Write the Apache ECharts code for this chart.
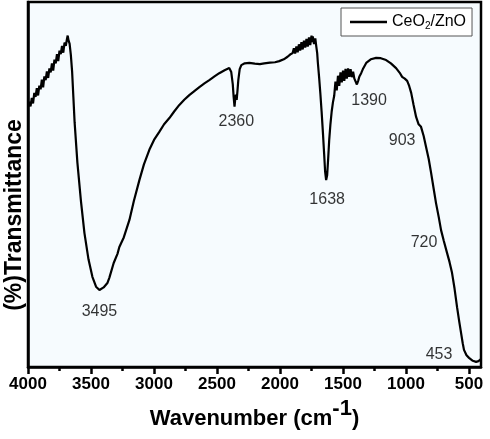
<!DOCTYPE html>
<html>
<head>
<meta charset="utf-8">
<script src="https://cdn.jsdelivr.net/npm/echarts@6/dist/echarts.min.js"></script>
<style>
html,body{margin:0;padding:0;background:#fff;}
#c{width:490px;height:439px;}
</style>
</head>
<body>
<div id="c"></div>
<script>
// Wavenumber (cm-1) and transmittance (arbitrary %)
var wavenumber = [4000,3990,3980,3970,3960,3950,3940,3930,3920,3910,3900,3890,3880,3870,3860,3850,3840,3830,3820,3810,3800,3790,3780,3770,3760,3750,3740,3730,3720,3710,3700,3690,3685,3678,3670,3660,3650,3640,3630,3608,3580,3552,3520,3489,3460,3433,3400,3370,3354,3320,3290,3275,3240,3195,3160,3116,3080,3037,3000,2958,2920,2878,2840,2799,2760,2720,2680,2640,2600,2561,2520,2482,2440,2403,2387,2375,2368,2361,2355,2350,2344,2338,2331,2320,2307,2280,2244,2200,2160,2125,2080,2040,2006,1970,1940,1920,1900,1890,1880,1870,1860,1850,1840,1830,1820,1810,1800,1790,1780,1770,1760,1750,1745,1740,1730,1720,1712,1705,1700,1690,1680,1670,1660,1650,1642,1634,1626,1618,1610,1600,1590,1580,1570,1560,1550,1540,1530,1520,1510,1500,1490,1480,1470,1460,1450,1440,1430,1420,1410,1400,1390,1380,1370,1356,1340,1316,1280,1237,1200,1158,1120,1079,1050,1031,1010,991,975,959,940,920,900,881,860,841,820,801,780,762,740,722,700,674,655,635,615,595,578,563,550,540,520,500,470,444,425,413,405];
var transmittance = [71.2,72.7,71.4,73.7,72.2,75.1,74.0,76.4,74.4,77.1,76.1,78.7,76.6,79.6,78.6,81.0,79.2,81.8,80.7,83.2,81.2,84.2,83.2,85.7,83.8,86.7,85.7,88.0,86.1,88.9,88.0,90.0,90.8,89.4,88.6,85.5,81.0,74.0,67.0,56.0,45.5,36.7,29.5,24.7,22.0,21.1,21.8,23.0,24.5,28.5,31.0,32.9,35.5,40.3,45.5,51.2,55.5,59.5,62.2,64.4,66.5,68.2,70.0,71.8,73.2,74.5,75.6,76.7,77.7,78.6,79.6,80.5,81.3,81.9,80.8,77.5,74.0,71.3,73.6,74.6,73.2,75.5,78.6,81.6,82.7,83.2,83.3,83.1,83.0,83.2,83.4,83.5,83.8,84.3,85.0,85.6,86.0,87.3,85.9,87.8,86.2,88.4,86.7,89.0,87.0,89.4,87.5,89.9,87.8,90.3,88.2,90.8,89.0,90.6,88.5,90.0,87.8,86.0,83.5,79.5,75.0,70.0,64.5,58.5,53.5,51.2,52.5,57.0,62.0,66.5,70.0,72.5,74.3,78.2,75.8,79.8,77.0,80.7,78.0,81.2,78.4,81.7,79.0,81.8,79.5,81.6,79.4,80.9,79.0,79.2,77.4,78.4,79.6,80.5,81.8,83.3,84.3,84.7,84.6,84.1,83.2,81.9,80.6,79.5,79.0,78.4,77.0,75.1,71.8,68.5,66.5,65.8,63.3,60.3,57.0,53.2,48.7,44.9,41.0,37.5,34.5,31.2,28.8,25.8,21.5,16.4,12.5,9.3,6.5,4.7,3.2,2.5,1.7,1.4,1.6,1.9,2.2];

// Peak annotations: label text and where the label sits (wavenumber, transmittance)
var peakNames = ['3495','2360','1638','1390','903','720','453'];
var peakLabelX = [3433,2347,1626,1293,1031,857,738];
var peakLabelY = [15.1,67.1,45.8,72.9,61.9,34.2,3.3];

var majorTicks = [4000,3500,3000,2500,2000,1500,1000,500];
var minorTicks = [3750,3250,2750,2250,1750,1250,750];

var seriesName = 'CeO2/ZnO';
var xMin = 405, xMax = 4000, yMin = 0, yMax = 100;

var lineData = wavenumber.map(function(w,i){return [w, transmittance[i]];});
var labelData = peakNames.map(function(n,i){return [peakLabelX[i], peakLabelY[i], n];});

var chart = echarts.init(document.getElementById('c'), null, {renderer:'canvas'});
var FONT = 'Liberation Sans, Arial, sans-serif';
chart.setOption({
  backgroundColor:'#ffffff',
  animation:false,
  grid:{left:28, right:9, top:2, bottom:72, show:true, borderColor:'#000', borderWidth:2.5, backgroundColor:'#f6fbfe'},
  legend:{
    data:[seriesName], left:341, top:8, orient:'horizontal',
    padding:[5,6,5,9], itemGap:5, itemWidth:37, itemHeight:2.5, icon:'rect',
    borderColor:'#555', borderWidth:1, backgroundColor:'#fff', borderRadius:0,
    formatter:function(){return '{a|CeO}{s|2}{a|/ZnO}';},
    textStyle:{color:'#000', fontFamily:FONT,
      rich:{a:{fontSize:16, fontFamily:FONT, color:'#000', lineHeight:18},
            s:{fontSize:10, fontFamily:FONT, color:'#000', lineHeight:18, padding:[8,0,0,0]}}}
  },
  xAxis:[{
    type:'value', inverse:true, min:xMin, max:xMax, position:'bottom',
    name:'{a|Wavenumber (cm}{s|-1}{a|)}', nameLocation:'middle', nameGap:33,
    nameTextStyle:{fontFamily:FONT, color:'#000',
      rich:{a:{fontSize:22, fontWeight:'bold', fontFamily:FONT, color:'#000', lineHeight:30, verticalAlign:'bottom'},
            s:{fontSize:22, fontWeight:'bold', fontFamily:FONT, color:'#000', lineHeight:30, padding:[0,0,10,0], verticalAlign:'bottom'}}},
    axisLine:{show:true, onZero:false, lineStyle:{color:'#000', width:2.5}},
    axisTick:{show:true, inside:false, length:7, lineStyle:{color:'#000', width:2.5}, customValues:majorTicks},
    axisLabel:{show:true, margin:9, fontSize:17, fontWeight:'bold', fontFamily:FONT, color:'#000', customValues:majorTicks,
      formatter:function(v){return String(v);}},
    splitLine:{show:false}, minorTick:{show:false}
  },{
    type:'value', inverse:true, min:xMin, max:xMax, position:'bottom', offset:0,
    axisLine:{show:false},
    axisTick:{show:true, inside:false, length:4, lineStyle:{color:'#000', width:2.5}, customValues:minorTicks},
    axisLabel:{show:false}, splitLine:{show:false}
  }],
  yAxis:{
    type:'value', min:yMin, max:yMax,
    axisLine:{show:true, onZero:false, lineStyle:{color:'#000', width:2.5}},
    axisTick:{show:false}, axisLabel:{show:false}, splitLine:{show:false}
  },
  graphic:[{
    type:'text', x:15, y:215, rotation:Math.PI/2,
    style:{text:'(%)Transmittance', font:'bold 23px '+FONT, fill:'#000', textAlign:'center', textVerticalAlign:'middle'}
  }],
  series:[{
    name:seriesName, type:'line', xAxisIndex:0, data:lineData, showSymbol:false, symbol:'none',
    lineStyle:{color:'#000', width:2.2}, itemStyle:{color:'#000'}, clip:true, z:3
  },{
    name:'peaks', type:'scatter', xAxisIndex:0, data:labelData, symbolSize:0, silent:true,
    label:{show:true, position:'inside', formatter:function(p){return p.value[2];},
      fontSize:16, fontFamily:FONT, color:'#000'}
  }]
});
</script>
</body>
</html>
